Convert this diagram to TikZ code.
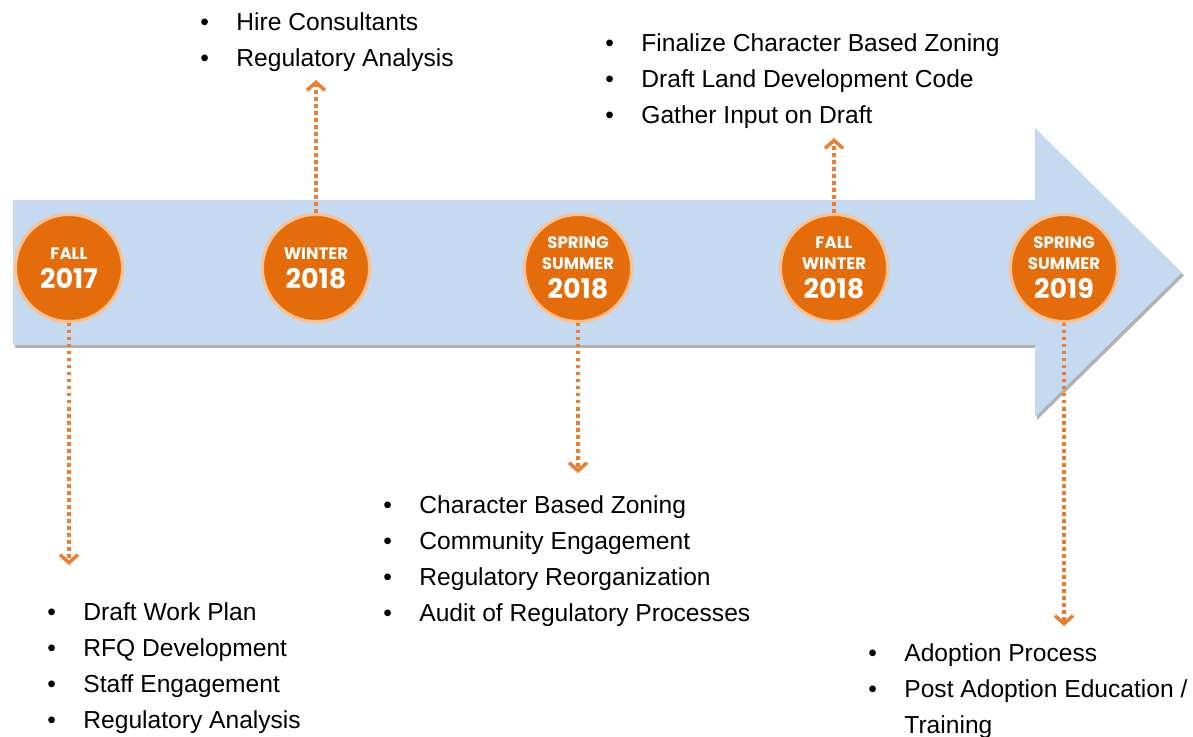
\documentclass[tikz,border=0pt]{standalone}
\usepackage{fontspec}
\setmainfont{Liberation Sans}
\newfontfamily\circlefont{Poppins}
\usetikzlibrary{arrows.meta,shadows}
\definecolor[named]{Band}{RGB}{197,217,240}
\definecolor[named]{Orange}{RGB}{228,108,10}
\definecolor[named]{Peach}{RGB}{250,192,143}
\definecolor[named]{Dots}{RGB}{237,125,49}
\newcommand\itm{\makebox[18pt][l]{\textbullet}}
\newcommand\yr[1]{\\[4pt]{\fontsize{13.5}{14}\selectfont #1}}
\tikzset{season/.style ={
        circle,
        fill=Orange,
        draw=Peach,
        line width=1.5pt,
        minimum size=53.5pt,
        inner sep=0,
        text=white,
        align=center,
        font=\circlefont\bfseries\fontsize{8.3}{10.5}\selectfont
    },
    tasks/.style ={
        anchor=north west,
        inner sep=0,
        align=left,
        font=\fontsize{12.3}{18}\selectfont
    },
    dots/.style ={
        draw=Dots,
        line width=1.75pt,
        dash pattern=on 1.75pt off 1.75pt,
        -{Straight Barb[length=4pt,width=9pt]}
    }}

\begin{document}
\begin{tikzpicture}[x=0.5pt,y=-0.5pt]
    \useasboundingbox (0,0) rectangle (1193,737);
    % timeline band
    \fill[Band, drop shadow={shadow xshift=1pt, shadow yshift=-1.5pt, fill=black, opacity=.3}]
        (13,200) -- (1035,200) -- (1035,128) -- (1182,272.5) -- (1035,417) -- (1035,345) -- (13,345) -- cycle;

    \node (fall17)[season] at (69,268) {FALL\yr{2017}};
    \node (win18)[season] at (316,268) {WINTER\yr{2018}};
    \node (spr18)[season] at (578,268) {SPRING\\SUMMER\yr{2018}};
    \node (fall18)[season] at (834,268) {FALL\\WINTER\yr{2018}};
    \node (spr19)[season] at (1064,268) {SPRING\\SUMMER\yr{2019}};

    \node (l1)[tasks] at (47,602) {\itm Draft Work Plan\\ \itm RFQ Development\\ \itm Staff Engagement\\ \itm Regulatory Analysis};
    \node (l2)[tasks] at (200,12) {\itm Hire Consultants\\ \itm Regulatory Analysis};
    \node (l3)[tasks] at (383,495) {\itm Character Based Zoning\\ \itm Community Engagement\\ \itm Regulatory Reorganization\\ \itm Audit of Regulatory Processes};
    \node (l4)[tasks] at (605,33) {\itm Finalize Character Based Zoning\\ \itm Draft Land Development Code\\ \itm Gather Input on Draft};
    \node (l5)[tasks] at (868,643) {\itm Adoption Process\\ \itm Post Adoption Education /\\ \hspace*{18pt}Training};

    \coordinate (t1) at (69,565);
    \coordinate (t2) at (316,80);
    \coordinate (t3) at (578,473);
    \coordinate (t4) at (834,138);
    \coordinate (t5) at (1064,626);

    \draw[dots] (fall17) -- (t1);
    \draw[dots] (win18) -- (t2);
    \draw[dots] (spr18) -- (t3);
    \draw[dots] (fall18) -- (t4);
    \draw[dots] (spr19) -- (t5);
\end{tikzpicture}
\end{document}
